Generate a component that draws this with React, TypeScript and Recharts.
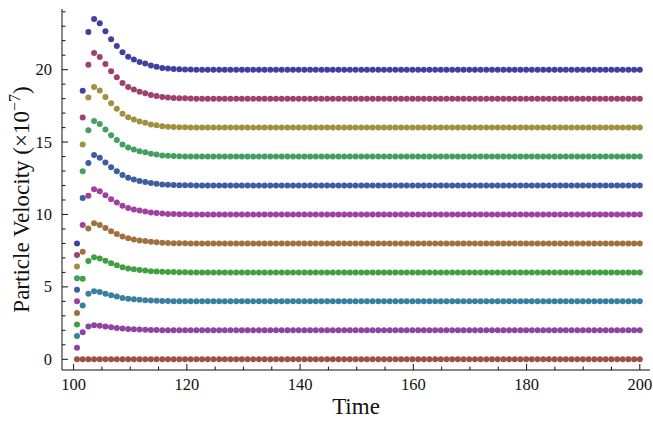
import React from 'react';
import { ScatterChart, Scatter, XAxis, YAxis } from 'recharts';

const FONT = '"Liberation Serif", "Times New Roman", "DejaVu Serif", serif';
const INK = '#111';

// sampling grid: 100 samples from just after t=100 up to t=200
const N_SAMPLES = 100;
const T_FIRST = 100.6;
const T_LAST = 200;
const time = Array.from(
  { length: N_SAMPLES },
  (_, i) => T_FIRST + (i * (T_LAST - T_FIRST)) / (N_SAMPLES - 1)
);

// start of each run; afterwards each run sits at its plateau
const head20 = [8.0, 18.55, 22.6, 23.5, 23.2, 22.65, 22.1, 21.64, 21.2, 20.9, 20.7, 20.53, 20.42, 20.28, 20.2, 20.12, 20.08, 20.05, 20.03, 20.02, 20.01];
const head18 = [7.2, 16.7, 20.34, 21.15, 20.88, 20.39, 19.89, 19.48, 19.08, 18.81, 18.63, 18.48, 18.38, 18.25, 18.18, 18.11, 18.07, 18.05, 18.03, 18.02, 18.01];
const head16 = [6.4, 14.84, 18.08, 18.8, 18.56, 18.12, 17.68, 17.31, 16.96, 16.72, 16.56, 16.42, 16.34, 16.22, 16.16, 16.1, 16.06, 16.04, 16.02, 16.02, 16.01];
const head14 = [5.6, 12.99, 15.82, 16.45, 16.24, 15.86, 15.47, 15.15, 14.84, 14.63, 14.49, 14.37, 14.29, 14.2, 14.14, 14.08, 14.06, 14.04, 14.02, 14.01, 14.01];
const head12 = [4.8, 11.13, 13.56, 14.1, 13.92, 13.59, 13.26, 12.98, 12.72, 12.54, 12.42, 12.32, 12.25, 12.17, 12.12, 12.07, 12.05, 12.03, 12.02, 12.01, 12.01];
const head10 = [4.0, 9.28, 11.3, 11.75, 11.6, 11.33, 11.05, 10.82, 10.6, 10.45, 10.35, 10.27, 10.21, 10.14, 10.1, 10.06, 10.04, 10.03, 10.02, 10.01, 10.0];
const head8 = [3.2, 7.42, 9.04, 9.4, 9.28, 9.06, 8.84, 8.66, 8.48, 8.36, 8.28, 8.21, 8.17, 8.11, 8.08, 8.05, 8.03, 8.02, 8.01, 8.01, 8.0];
const head6 = [2.4, 5.57, 6.78, 7.05, 6.96, 6.8, 6.63, 6.49, 6.36, 6.27, 6.21, 6.16, 6.13, 6.08, 6.06, 6.04, 6.02, 6.02, 6.01, 6.01, 6.0];
const head4 = [1.6, 3.71, 4.52, 4.7, 4.64, 4.53, 4.42, 4.33, 4.24, 4.18, 4.14, 4.11, 4.08, 4.06, 4.04, 4.02, 4.02, 4.01, 4.01, 4.0, 4.0];
const head2 = [0.8, 1.86, 2.26, 2.35, 2.32, 2.27, 2.21, 2.16, 2.12, 2.09, 2.07, 2.05, 2.04, 2.03, 2.02, 2.01, 2.01, 2.0, 2.0, 2.0, 2.0];
const head0: number[] = [];

const plateaus = [0, 2, 4, 6, 8, 10, 12, 14, 16, 18, 20];
const heads = [head0, head2, head4, head6, head8, head10, head12, head14, head16, head18, head20];
const colors = [
  '#a0503f', // 0
  '#8e44a0', // 2
  '#3b7fa0', // 4
  '#40a040', // 6
  '#a07040', // 8
  '#a040a0', // 10
  '#3b5ea0', // 12
  '#40a060', // 14
  '#a09040', // 16
  '#a04070', // 18
  '#4040a0', // 20
];

const xTicks = [100, 105, 110, 115, 120, 125, 130, 135, 140, 145, 150, 155, 160, 165, 170, 175, 180, 185, 190, 195, 200];
const xLabelTicks = [100, 120, 140, 160, 180, 200];
const yTicks = [0, 1, 2, 3, 4, 5, 6, 7, 8, 9, 10, 11, 12, 13, 14, 15, 16, 17, 18, 19, 20, 21, 22, 23, 24];
const yLabelTicks = [0, 5, 10, 15, 20];

const X_DOMAIN: [number, number] = [97.95, 201.8];
const Y_DOMAIN: [number, number] = [-0.74, 24.19];

const MAJOR = 6;
const MINOR = 3.5;

const series = plateaus.map((p, s) => {
  const head = heads[s];
  const values = head.concat(new Array(N_SAMPLES - head.length).fill(p));
  return { plateau: p, color: colors[s], data: values.map((v, i) => ({ t: time[i], v })) };
});

function BottomTick({ x, y, payload }: any) {
  const major = xLabelTicks.includes(payload.value);
  return (
    <g>
      <line x1={x} x2={x} y1={y} y2={y - (major ? MAJOR : MINOR)} stroke={INK} />
      {major && (
        <text x={x} y={y + 20} textAnchor="middle" fontFamily={FONT} fontSize={16.5} fill={INK}>
          {payload.value}
        </text>
      )}
    </g>
  );
}

function TopTick({ x, y, payload }: any) {
  const major = xLabelTicks.includes(payload.value);
  return <line x1={x} x2={x} y1={y} y2={y + (major ? MAJOR : MINOR)} stroke={INK} />;
}

function LeftTick({ x, y, payload }: any) {
  const major = yLabelTicks.includes(payload.value);
  return (
    <g>
      <line x1={x} x2={x + (major ? MAJOR : MINOR)} y1={y} y2={y} stroke={INK} />
      {major && (
        <text x={x - 10} y={y} dy="0.34em" textAnchor="end" fontFamily={FONT} fontSize={16.5} fill={INK}>
          {payload.value}
        </text>
      )}
    </g>
  );
}

function RightTick({ x, y, payload }: any) {
  const major = yLabelTicks.includes(payload.value);
  return <line x1={x} x2={x - (major ? MAJOR : MINOR)} y1={y} y2={y} stroke={INK} />;
}

function XTitle({ viewBox }: any) {
  const vb = viewBox || { x: 62, y: 370, width: 588, height: 51 };
  return (
    <text x={vb.x + vb.width / 2} y={vb.y + 44} textAnchor="middle" fontFamily={FONT} fontSize={23} fill={INK}>
      Time
    </text>
  );
}

function YTitle({ viewBox }: any) {
  const vb = viewBox || { x: 0, y: 9, width: 62, height: 361 };
  const cx = vb.x + 29;
  const cy = vb.y + vb.height / 2 + 10;
  return (
    <text
      x={cx}
      y={cy}
      transform={`rotate(-90, ${cx}, ${cy})`}
      textAnchor="middle"
      fontFamily={FONT}
      fontSize={23}
      fill={INK}
    >
      Particle Velocity (×10
      <tspan dy={-9} fontSize={16}>−7</tspan>
      <tspan dy={9}>)</tspan>
    </text>
  );
}

export default function App() {
  return (
    <div style={{ position: 'absolute', left: 0, top: 0, width: 653, height: 421, background: '#fff' }}>
      <ScatterChart width={653} height={421} margin={{ top: 9, right: 3, bottom: 0, left: 0 }}>
        <XAxis
          xAxisId="b"
          dataKey="t"
          type="number"
          domain={X_DOMAIN}
          allowDataOverflow
          ticks={xTicks}
          interval={0}
          height={51}
          tickSize={0}
          tickMargin={0}
          tickLine={false}
          axisLine={{ stroke: INK }}
          tick={<BottomTick />}
          label={{ content: XTitle }}
        />
        <XAxis
          xAxisId="t"
          orientation="top"
          type="number"
          domain={X_DOMAIN}
          allowDataOverflow
          ticks={xTicks}
          interval={0}
          height={0}
          tickSize={0}
          tickMargin={0}
          tickLine={false}
          axisLine={{ stroke: INK }}
          tick={<TopTick />}
        />
        <YAxis
          yAxisId="l"
          dataKey="v"
          type="number"
          domain={Y_DOMAIN}
          allowDataOverflow
          ticks={yTicks}
          interval={0}
          width={62}
          tickSize={0}
          tickMargin={0}
          tickLine={false}
          axisLine={{ stroke: INK }}
          tick={<LeftTick />}
          label={{ content: YTitle }}
        />
        <YAxis
          yAxisId="r"
          orientation="right"
          type="number"
          domain={Y_DOMAIN}
          allowDataOverflow
          ticks={yTicks}
          interval={0}
          width={0}
          tickSize={0}
          tickMargin={0}
          tickLine={false}
          axisLine={{ stroke: INK }}
          tick={<RightTick />}
        />
        {series.map((s) => (
          <Scatter
            key={s.plateau}
            xAxisId="b"
            yAxisId="l"
            data={s.data}
            dataKey="v"
            fill={s.color}
            isAnimationActive={false}
            shape={(p: any) => <circle cx={p.cx} cy={p.cy} r={3} fill={s.color} />}
          />
        ))}
      </ScatterChart>
    </div>
  );
}
